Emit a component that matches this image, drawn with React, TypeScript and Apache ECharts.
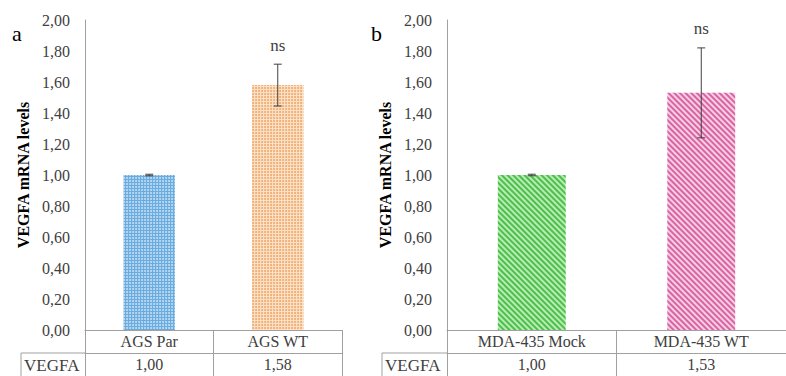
import React, { useEffect, useRef } from "react";
import * as echarts from "echarts";

const categoriesA = ["AGS Par", "AGS WT"];
const valuesA = [1.0, 1.58];
const errorsA = [0.005, 0.135];
const sigA = ["", "ns"];

const categoriesB = ["MDA-435 Mock", "MDA-435 WT"];
const valuesB = [1.0, 1.53];
const errorsB = [0.005, 0.29];
const sigB = ["", "ns"];

const rowHeader = "VEGFA";
const yAxisTitle = "VEGFA mRNA levels";
const panelLetters = ["a", "b"];
const yMin = 0;
const yMax = 2;
const yStep = 0.2;

const FONT = "Liberation Serif";
const GRAY = "#a0a0a0";
const TXT = "#404040";

const fmt = (v: number) => v.toFixed(2).replace(".", ",");

const dotted = (base: string, dot: string) => ({
  color: base,
  decal: {
    symbol: "circle",
    symbolSize: 0.9,
    dashArrayX: [2, 1],
    dashArrayY: [2, 1],
    color: dot,
  },
});
const striped = (base: string, line: string) => ({
  color: base,
  decal: {
    symbol: "rect",
    symbolSize: 1,
    dashArrayX: [1, 0],
    dashArrayY: [1.5, 1.5],
    rotation: Math.PI / 4,
    color: line,
  },
});

const stylesA = [dotted("#6aace0", "rgba(255,255,255,0.65)"), dotted("#fbe0c4", "#eea466")];
const stylesB = [striped("#b8ecb2", "#4cbf4c"), striped("#f6cfe3", "#d963a5")];

export default function App() {
  const ref = useRef<HTMLDivElement>(null);
  useEffect(() => {
    if (!ref.current) return;
    const chart = echarts.init(ref.current, undefined, { renderer: "svg" });

    const grids = [
      { left: 85, top: 20, width: 257, height: 310 },
      { left: 447, top: 20, width: 352, height: 310 },
    ];

    const catAxis = (gi: number, data: string[], offset: number) => ({
      type: "category",
      gridIndex: gi,
      position: "bottom",
      offset,
      data,
      boundaryGap: true,
      axisLine: { show: true, lineStyle: { color: GRAY, width: 1 } },
      axisTick: { show: true, length: 23, alignWithLabel: false, lineStyle: { color: GRAY, width: 1 } },
      axisLabel: { show: true, margin: 3, fontFamily: FONT, fontSize: 16, color: TXT, interval: 0 },
      splitLine: { show: false },
    });

    const valAxis = (gi: number) => ({
      type: "value",
      gridIndex: gi,
      min: yMin,
      max: yMax,
      interval: yStep,
      name: yAxisTitle,
      nameLocation: "middle",
      nameGap: 54,
      nameTextStyle: { fontFamily: FONT, fontSize: 16, fontWeight: "bold", color: "#000" },
      axisLine: { show: true, lineStyle: { color: GRAY, width: 1 } },
      axisTick: { show: false },
      axisLabel: { margin: 15, fontFamily: FONT, fontSize: 16, color: TXT, formatter: (v: number) => fmt(v) },
      splitLine: { show: false },
    });

    const errSeries = (xi: number, yi: number, vals: number[], errs: number[], sig: string[]) => ({
      type: "custom",
      xAxisIndex: xi,
      yAxisIndex: yi,
      z: 10,
      data: vals.map((v, i) => [i, v, errs[i]]),
      renderItem: (params: any, api: any) => {
        const i = api.value(0);
        const m = api.value(1);
        const e = api.value(2);
        const top = api.coord([i, m + e]);
        const bot = api.coord([i, m - e]);
        const cap = 4;
        const st = { stroke: "#404040", lineWidth: 1 };
        const children: any[] = [
          { type: "line", shape: { x1: top[0], y1: top[1], x2: bot[0], y2: bot[1] }, style: st },
          { type: "line", shape: { x1: top[0] - cap, y1: top[1], x2: top[0] + cap, y2: top[1] }, style: st },
          { type: "line", shape: { x1: bot[0] - cap, y1: bot[1], x2: bot[0] + cap, y2: bot[1] }, style: st },
        ];
        const s = sig[params.dataIndex];
        if (s) {
          children.push({
            type: "text",
            style: {
              text: s,
              x: top[0],
              y: top[1] - 19,
              align: "center",
              verticalAlign: "middle",
              fontFamily: FONT,
              fontSize: 17,
              fill: TXT,
            },
          });
        }
        return { type: "group", children };
      },
    });

    const headerCell = (x0: number, x1: number) => [
      { type: "line", shape: { x1: x0, y1: 353, x2: x1, y2: 353 }, style: { stroke: GRAY, lineWidth: 1 } },
      { type: "line", shape: { x1: x0, y1: 353, x2: x0, y2: 380 }, style: { stroke: GRAY, lineWidth: 1 } },
      {
        type: "text",
        x: x0 + 3,
        y: 365,
        style: { text: rowHeader, fontFamily: FONT, fontSize: 17, fill: TXT, verticalAlign: "middle", align: "left" },
      },
    ];

    chart.setOption({
      animation: false,
      grid: grids,
      xAxis: [
        catAxis(0, categoriesA, 0),
        catAxis(0, valuesA.map(fmt), 23),
        catAxis(1, categoriesB, 0),
        catAxis(1, valuesB.map(fmt), 23),
      ],
      yAxis: [valAxis(0), valAxis(1)],
      series: [
        {
          type: "bar",
          xAxisIndex: 0,
          yAxisIndex: 0,
          barWidth: "40%",
          data: valuesA.map((v, i) => ({ value: v, itemStyle: stylesA[i] })),
        },
        {
          type: "bar",
          xAxisIndex: 2,
          yAxisIndex: 1,
          barWidth: "40%",
          data: valuesB.map((v, i) => ({ value: v, itemStyle: stylesB[i] })),
        },
        errSeries(0, 0, valuesA, errorsA, sigA),
        errSeries(2, 1, valuesB, errorsB, sigB),
      ],
      graphic: [
        ...headerCell(21, 85),
        ...headerCell(382, 447),
        {
          type: "text",
          x: 12,
          y: 33,
          style: { text: panelLetters[0], fontFamily: FONT, fontSize: 22, fill: "#000", verticalAlign: "middle" },
        },
        {
          type: "text",
          x: 371,
          y: 33,
          style: { text: panelLetters[1], fontFamily: FONT, fontSize: 22, fill: "#000", verticalAlign: "middle" },
        },
      ],
    });
    return () => chart.dispose();
  }, []);
  return (
    <div
      ref={ref}
      style={{ position: "fixed", left: 0, top: 0, width: 786, height: 376, background: "#fff" }}
    />
  );
}
